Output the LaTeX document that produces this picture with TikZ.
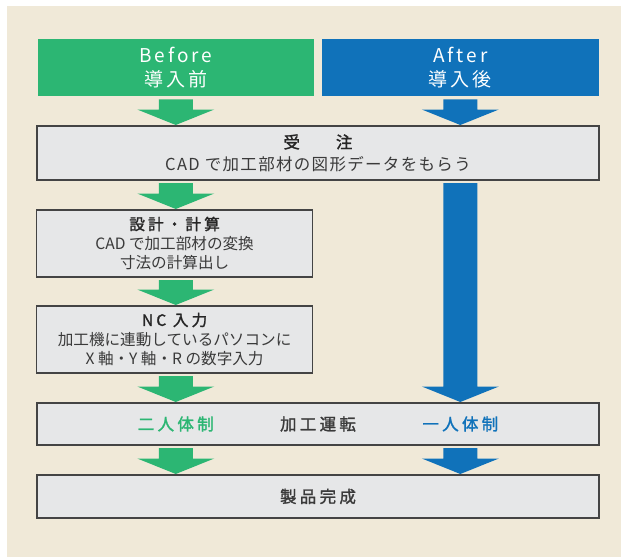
\documentclass[tikz,border=0pt]{standalone}
\usepackage{fontspec}
\setmainfont{Noto Sans CJK JP}
\usepackage{xcolor}
\usepackage{tikz}
\usetikzlibrary{calc}

\definecolor{bgbeige}{HTML}{F0E9D8}
\definecolor{befgreen}{HTML}{2CB673}
\definecolor{aftblue}{HTML}{1072BA}
\definecolor{boxgray}{HTML}{E6E7E8}
\definecolor{boxline}{HTML}{444444}
\definecolor{textgray}{HTML}{3A3A3A}

% fat arrow: colour, column node, from node, to node
\newcommand{\fatarrow}[4]{%
  \fill[#1] let \p1=(#2.center |- #3.south), \p2=(#2.center |- #4.north) in
    (\x1-17pt,\y1-3pt) -- (\x1+17pt,\y1-3pt) -- (\x1+17pt,\y2+16.5pt)
    -- (\x1+38.5pt,\y2+16.5pt) -- (\x1,\y2+1pt) -- (\x1-38.5pt,\y2+16.5pt)
    -- (\x1-17pt,\y2+16.5pt) -- cycle;}
\newcommand{\boxtitle}{\color{black!85}\addfontfeature{LetterSpace=20,FakeBold=1.6}}

\begin{document}
\begin{tikzpicture}[x=1pt, y=-1pt,
  every node/.style={inner sep=0pt, outer sep=0pt},
  headbox/.style={minimum width=276.5pt, minimum height=57pt, text=white, align=center,
    font={\fontsize{19}{24.5}\selectfont\addfontfeature{LetterSpace=16}}},
  stepbox/.style={draw=boxline, line width=1.2pt, fill=boxgray, text=textgray, align=center},
  widebox/.style={stepbox, minimum width=562pt},
  halfbox/.style={stepbox, minimum width=275.5pt, minimum height=67pt,
    font={\fontsize{15.6}{19.5}\selectfont}}]
\useasboundingbox (0,0) rectangle (621,557);
% background
\fill[bgbeige] (7,6) rectangle (621,557);

% Before / After headers
\node[headbox, fill=befgreen] (before) at (175.75,67.8) {Before\\導入前};
\node[headbox, fill=aftblue] (after) at (460.35,67.8) {After\\導入後};

% Process steps
\node[widebox, minimum height=54pt, font={\fontsize{16.5}{22}\selectfont}] (order) at (318,153)
  {{\boxtitle 受\hspace{36pt}注}\\{\addfontfeature{LetterSpace=8}CAD で加工部材の図形データをもらう}};
\node[halfbox] (design) at (174.6,243.5)
  {{\boxtitle 設計・計算}\\CAD で加工部材の変換\\寸法の計算出し};
\node[halfbox] (nc) at (174.6,339.5)
  {{\boxtitle NC 入力}\\加工機に連動しているパソコンに\\X 軸・Y 軸・R の数字入力};
\node[widebox, minimum height=42pt, font={\fontsize{16.5}{20}\selectfont\boxtitle}] (machining) at (318,424) {加工運転};
\node[widebox, minimum height=43pt, font={\fontsize{16.5}{20}\selectfont\boxtitle}] (product) at (318,496.5) {製品完成};

% Staffing labels
\node[font={\fontsize{16.5}{20}\selectfont\boxtitle}, text=befgreen] (twoman) at (before.center |- machining.center) {二人体制};
\node[font={\fontsize{16.5}{20}\selectfont\boxtitle}, text=aftblue] (oneman) at (after.center |- machining.center) {一人体制};

% Before flow
\fatarrow{befgreen}{before}{before}{order}
\fatarrow{befgreen}{before}{order}{design}
\fatarrow{befgreen}{before}{design}{nc}
\fatarrow{befgreen}{before}{nc}{machining}
\fatarrow{befgreen}{before}{machining}{product}

% After flow
\fatarrow{aftblue}{after}{after}{order}
\fatarrow{aftblue}{after}{order}{machining}
\fatarrow{aftblue}{after}{machining}{product}
\end{tikzpicture}
\end{document}
